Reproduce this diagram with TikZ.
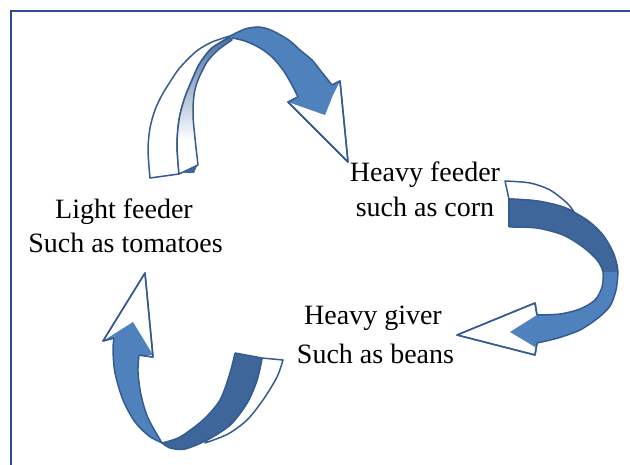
\documentclass[tikz,border=0pt]{standalone}
\usepackage{fontspec}
\setmainfont{Liberation Serif}
\definecolor{rlight}{RGB}{79,129,189}
\definecolor{rdark}{RGB}{62,102,155}
\definecolor{rline}{RGB}{52,92,145}
\definecolor{framecol}{RGB}{46,75,155}
\tikzset{
  lbl/.style={font=\fontsize{28}{32}\selectfont, anchor=base, inner sep=0pt},
  backface/.style={fill=white, draw=rline, line width=1.5pt, line join=round},
  ribedge/.style={draw=rline, line width=1.5pt, line join=round},
  framestyle/.style={draw=framecol, line width=2.4pt}
}
\newcommand\ribbonWtwo{plot[smooth] coordinates {(179,174) (177,145) (179,120) (184,100) (192,80) (200,63) (212,48) (230,37)} -- plot[smooth] coordinates {(232,40) (218,50) (207,62) (198,80) (194,95) (193,115) (195,138) (198,165)} -- cycle}
\begin{document}
\begin{tikzpicture}[x=1pt,y=-1pt]
\useasboundingbox (0,0) rectangle (630,465);
\fill[white] (0,0) rectangle (630,465);
% frame
\draw[framestyle] (11,466) -- (11,11) -- (631,11);

% ---------- top arrow ----------
\path[backface] plot[smooth] coordinates {(150,178) (148,150) (150,128) (155,110) (162,95) (170,82) (178,70) (188,59) (198,50) (212,42) (230,36)} -- plot[smooth] coordinates {(230,37) (212,48) (200,63) (192,80) (184,100) (179,120) (177,145) (179,174)} -- cycle;
\path[fill=white] \ribbonWtwo;
\begin{scope}
  \clip \ribbonWtwo;
  \shade[top color=rdark, middle color=rdark, bottom color=white] (165,30) rectangle (245,140);
\end{scope}
\path[ribedge] \ribbonWtwo;
\fill[rdark] (183,173) -- (197,166) -- (194,173) -- cycle;
% head
\path[backface] (298,97) -- (288,102) -- (348,162) -- (340,81) -- (332,85);
\fill[rlight] plot[smooth] coordinates {(230,36) (245,29) (258,27) (268,29) (277,33) (290,41) (300,50) (312,60) (320,70) (332,85)} -- (340,81) -- (333,95) -- (325,115) -- (288,102) -- (298,97) -- plot[smooth] coordinates {(298,97) (292,85) (283,70) (272,57) (260,48) (245,41) (232,38)} -- cycle;
\draw[ribedge] plot[smooth] coordinates {(230,36) (245,29) (258,27) (268,29) (277,33) (290,41) (300,50) (312,60) (320,70) (332,85)};
\draw[ribedge] plot[smooth] coordinates {(298,97) (292,85) (283,70) (272,57) (260,48) (245,41) (232,38)};
\draw[ribedge] (332,85) -- (340,81) -- (348,162) -- (288,102) -- (298,97);

% ---------- right arrow ----------
\path[backface] plot[smooth] coordinates {(505,181) (530,183) (550,190) (567,203) (574,212)} -- plot[smooth] coordinates {(574,212) (563,207) (537,201) (509,199)} -- cycle;
\path[backface] (537,315) -- (535,303) -- (457,335) -- (535,355) -- (537,343);
\fill[rdark] plot[smooth] coordinates {(509,199) (537,201) (563,207) (587,220) (603,235) (613,252) (617,265) (618,272)} -- (603,272) -- plot[smooth] coordinates {(603,272) (597,260) (583,247) (563,235) (537,228) (509,227)} -- cycle;
\fill[rlight] plot[smooth] coordinates {(618,272) (616,290) (610,306) (598,318) (580,330) (558,338) (537,343)} -- (535,347) -- (510,332) -- (537,315) -- plot[smooth] coordinates {(537,315) (560,314) (580,309) (595,300) (602,287) (603,272)} -- cycle;
\draw[ribedge] plot[smooth] coordinates {(509,199) (537,201) (563,207) (587,220) (603,235) (613,252) (617,265) (618,272) (616,290) (610,306) (598,318) (580,330) (558,338) (537,343)};
\draw[ribedge] plot[smooth] coordinates {(509,227) (537,228) (563,235) (583,247) (597,260) (603,272) (602,287) (595,300) (580,309) (560,314) (537,315)};
\draw[ribedge] (509,199) -- (509,227);
\draw[ribedge] (537,315) -- (535,303) -- (457,335) -- (535,355) -- (537,343);

% ---------- bottom arrow ----------
\path[backface] (262,358) -- (283,360) -- plot[smooth] coordinates {(283,360) (277,377) (263,400) (247,420) (228,434) (205,443)} -- plot[smooth] coordinates {(207,440) (230,425) (247,403) (257,380) (262,358)} -- cycle;
\path[backface] (114,338) -- (103,341) -- (145,273) -- (153,357) -- (139,355);
\fill[rdark] (235,353) -- (262,358) -- plot[smooth] coordinates {(262,358) (257,380) (247,403) (230,425) (207,440) (185,449) (170,448) (162,443)} -- plot[smooth] coordinates {(162,443) (180,437) (203,420) (220,400) (230,373) (235,353)} -- cycle;
\fill[rlight] plot[smooth] coordinates {(162,443) (149,436) (135,422) (123,400) (115,373) (113,350) (114,338)} -- (103,341) -- (133,322) -- (153,355) -- (139,355) -- plot[smooth] coordinates {(139,355) (138,372) (141,395) (148,418) (162,443)} -- cycle;
\draw[ribedge] plot[smooth] coordinates {(262,358) (257,380) (247,403) (230,425) (207,440) (185,449) (170,448) (162,443) (149,436) (135,422) (123,400) (115,373) (113,350) (114,338)};
\draw[ribedge] plot[smooth] coordinates {(235,353) (230,373) (220,400) (203,420) (180,437) (162,443)};
\draw[ribedge] plot[smooth] coordinates {(139,355) (138,372) (141,395) (148,418) (162,443)};
\draw[ribedge] (235,353) -- (262,358);
\draw[ribedge] (114,338) -- (103,341) -- (145,273) -- (153,357) -- (139,355);

% ---------- labels ----------
\node[lbl] (lf1) at (124,219) {Light feeder};
\node[lbl] (lf2) at (125.5,253) {Such as tomatoes};
\node[lbl] (hf1) at (425,182) {Heavy feeder};
\node[lbl] (hf2) at (425,217) {such as corn};
\node[lbl] (hg1) at (373,325) {Heavy giver};
\node[lbl] (hg2) at (375.5,363) {Such as beans};
\end{tikzpicture}
\end{document}
